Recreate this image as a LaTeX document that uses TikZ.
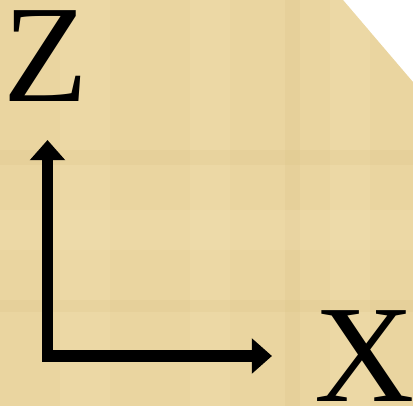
\documentclass[tikz,border=0pt]{standalone}
\usepackage{fontspec}
\setmainfont{Liberation Serif}
\usetikzlibrary{arrows.meta,positioning}
\definecolor{papyrus}{RGB}{234,213,160}
\definecolor{papyruslight}{RGB}{243,226,182}
\definecolor{papyrusdark}{RGB}{222,197,138}
\tikzset{
  axis/.style={line width=6.8pt, black, line join=miter,
    {Triangle[length=11.5pt,width=19.5pt]}-{Triangle[length=11.5pt,width=19.5pt]}},
  axlabel/.style={inner sep=0pt, font=\fontsize{79}{79}\selectfont},
  fibre/.style={opacity=.25}
}
\begin{document}
\begin{tikzpicture}[x=0.02cm,y=-0.02cm]
  \useasboundingbox (0,0) rectangle (413,406);
  % sheet with cut corner
  \fill[papyrus] (0,0) -- (343,0) -- (413,82) -- (413,406) -- (0,406) -- cycle;
  \begin{scope}
    \clip (0,0) -- (343,0) -- (413,82) -- (413,406) -- (0,406) -- cycle;
    \fill[papyruslight,fibre] (60,0) rectangle (110,406);
    \fill[papyruslight,fibre] (190,0) rectangle (230,406);
    \fill[papyrusdark,fibre] (285,0) rectangle (300,406);
    \fill[papyruslight,fibre] (330,0) rectangle (370,406);
    \fill[papyrusdark,fibre] (0,150) rectangle (413,165);
    \fill[papyruslight,fibre] (0,210) rectangle (413,250);
    \fill[papyrusdark,fibre] (0,300) rectangle (413,312);
  \end{scope}

  % axes
  \coordinate (ztip) at (47.5,140);
  \coordinate (xtip) at (272,356);
  \draw[axis] (ztip) |- (xtip);
  \node[axlabel] (zlab) at (46,56) {Z};
  \node[axlabel] (xlab) at (365,356) {X};
\end{tikzpicture}
\end{document}
